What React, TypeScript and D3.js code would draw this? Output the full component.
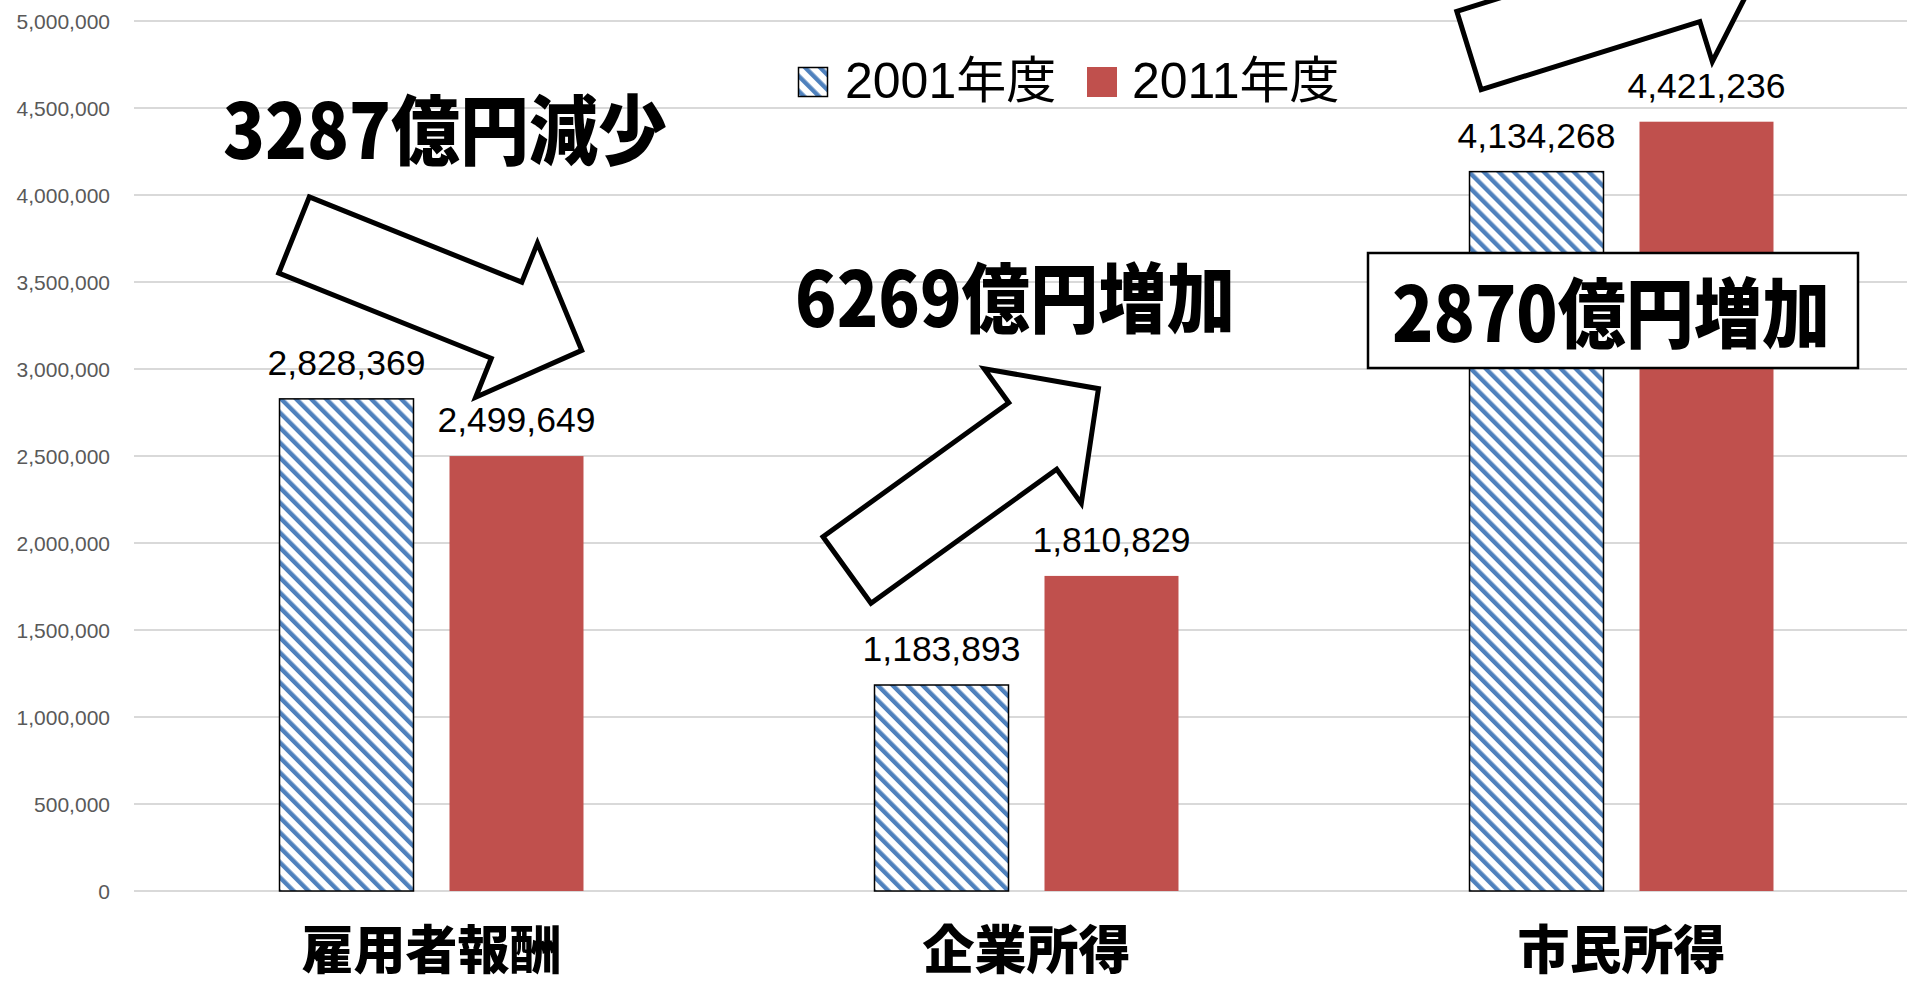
import React from "react";
import * as d3 from "d3";

const categories = ["雇用者報酬", "企業所得", "市民所得"];
const seriesNames = ["2001年度", "2011年度"];
const values2001 = [2828369, 1183893, 4134268];
const values2011 = [2499649, 1810829, 4421236];
const yTickValues = [0, 500000, 1000000, 1500000, 2000000, 2500000, 3000000, 3500000, 4000000, 4500000, 5000000];

const W = 1907;
const H = 986;
const BLUE = "#4F81BD";
const RED = "#C0504D";
const LATIN = "'Liberation Sans', Arial, 'Noto Sans CJK JP', sans-serif";
const CJK = "'Noto Sans CJK JP', 'Noto Sans CJK SC', sans-serif";

// arrow shape (tail centre at origin, pointing +x)
function arrowPath(cx: number, cy: number, angle: number) {
  const h = 41, L = 229, o = 42, Lh = 81;
  const pts: [number, number][] = [
    [0, -h], [L, -h], [L, -h - o], [L + Lh, 0], [L, h + o], [L, h], [0, h],
  ];
  const a = (angle * Math.PI) / 180;
  const c = Math.cos(a), s = Math.sin(a);
  const t = pts.map(([x, y]) => [cx + x * c - y * s, cy + x * s + y * c] as [number, number]);
  return d3.line()(t) + "Z";
}

export default function App() {
  const x0 = d3.scaleBand<string>().domain(categories).range([134, 1919]).paddingInner(0).paddingOuter(0);
  const x1 = d3.scaleBand<string>().domain(seriesNames).range([0, x0.bandwidth()]).paddingInner(36 / 170).paddingOuter(0.856);
  const y = d3.scaleLinear().domain([0, 5000000]).range([891, 21]);
  const fmt = d3.format(",");

  const rows = categories.map((c, i) => ({ c, v: [values2001[i], values2011[i]] }));
  const diffs = rows.map((r) => Math.round((r.v[1] - r.v[0]) / 100));
  const diffText = diffs.map((d) => `${Math.abs(d)}億円${d < 0 ? "減少" : "増加"}`);

  const annFont = { fontFamily: CJK, fontWeight: 900, fontSize: 76 } as const;

  return (
    <svg width={W} height={H} style={{ position: "absolute", left: 0, top: 0, background: "#fff" }}>
      <defs>
        <pattern id="hatch" patternUnits="userSpaceOnUse" width={10.6} height={10.6} patternTransform="rotate(-45)">
          <rect x={0} y={0} width={10.6} height={10.6} fill="#fff" />
          <rect x={0} y={0} width={4.4} height={10.6} fill={BLUE} />
        </pattern>
      </defs>
      <rect x={0} y={0} width={W} height={H} fill="#fff" />

      {/* gridlines & tick labels */}
      {yTickValues.map((t) => (
        <g key={t}>
          <line x1={134} x2={W} y1={y(t)} y2={y(t)} stroke="#d9d9d9" strokeWidth={2} />
          <text x={110} y={y(t) + 7.5} textAnchor="end" fontFamily={LATIN} fontSize={21} fill="#595959">
            {fmt(t)}
          </text>
        </g>
      ))}

      {/* bars */}
      {rows.map((r) => (
        <g key={r.c} transform={`translate(${x0(r.c)},0)`}>
          {seriesNames.map((s, j) => {
            const bx = x1(s)!;
            const bw = x1.bandwidth();
            const top = y(r.v[j]);
            return (
              <g key={s}>
                <rect
                  x={bx}
                  y={top}
                  width={bw}
                  height={y(0) - top}
                  fill={j === 0 ? "url(#hatch)" : RED}
                  stroke={j === 0 ? "#000" : "none"}
                  strokeWidth={1.5}
                />
                <text x={bx + bw / 2} y={top - 24} textAnchor="middle" fontFamily={LATIN} fontSize={35.5} fill="#000">
                  {fmt(r.v[j])}
                </text>
              </g>
            );
          })}
        </g>
      ))}

      {/* category labels */}
      {categories.map((c) => (
        <text
          key={c}
          x={x0(c)! + x0.bandwidth() / 2}
          y={969}
          textAnchor="middle"
          fontFamily={CJK}
          fontWeight={900}
          fontSize={52}
          fill="#000"
        >
          {c}
        </text>
      ))}

      {/* legend */}
      <rect x={798.5} y={67.5} width={29} height={29} fill="url(#hatch)" stroke="#000" strokeWidth={1.5} />
      <text x={845} y={98} fontFamily={LATIN} fontSize={50} fill="#000">{seriesNames[0]}</text>
      <rect x={1087} y={67} width={30} height={30} fill={RED} />
      <text x={1132} y={98} fontFamily={LATIN} fontSize={50} fill="#000">{seriesNames[1]}</text>

      {/* arrows */}
      <path d={arrowPath(294, 235, 21.85)} fill="#fff" stroke="#000" strokeWidth={5} strokeLinejoin="miter" />
      <path d={arrowPath(847, 570, -35.8)} fill="#fff" stroke="#000" strokeWidth={5} strokeLinejoin="miter" />
      <path d={arrowPath(1469, 50.5, -17.3)} fill="#fff" stroke="#000" strokeWidth={5} strokeLinejoin="miter" />

      {/* annotations */}
      <text x={223} y={159} {...annFont} textLength={444} lengthAdjust="spacingAndGlyphs">{diffText[0]}</text>
      <text x={795} y={327} {...annFont} textLength={440} lengthAdjust="spacingAndGlyphs">{diffText[1]}</text>
      <rect x={1368} y={253} width={490} height={115} fill="#fff" stroke="#000" strokeWidth={2.5} />
      <text x={1392} y={342} {...annFont} textLength={438} lengthAdjust="spacingAndGlyphs">{diffText[2]}</text>
    </svg>
  );
}
